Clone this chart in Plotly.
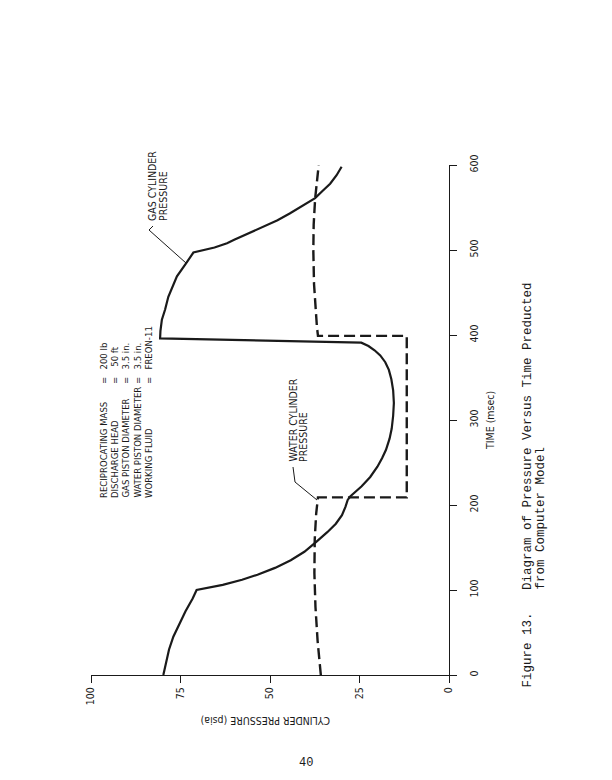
import plotly.graph_objects as go

# ---------------- data ----------------
gas_time = [0, 15, 30, 45, 60, 75, 90, 100, 106, 112, 118, 126, 135, 145, 157, 168, 178,
            188, 198, 206, 210, 215, 222, 233, 245, 255, 265, 278, 290, 305, 320, 335,
            348, 359, 368, 376, 382, 387, 391, 396, 405, 418, 430, 445, 458, 469, 484,
            497, 503, 508, 512, 519, 527, 535, 543, 552, 561, 570, 578, 588, 598]
gas_pressure = [79.8, 79.1, 78.2, 77.0, 75.4, 73.6, 71.6, 70.5, 63.2, 57.8, 53.5, 48.6, 44.2,
                40.4, 37.0, 34.0, 31.6, 29.9, 28.9, 28.3, 27.6, 26.2, 24.4, 22.0, 20.0, 18.7,
                17.6, 16.6, 16.0, 15.6, 15.4, 15.6, 16.1, 16.8, 17.8, 19.2, 20.8, 22.5, 24.5,
                80.7, 80.6, 80.2, 79.3, 78.4, 77.2, 76.0, 73.5, 71.4, 65.5, 62.0, 60.0, 56.2,
                51.8, 47.9, 44.5, 40.8, 37.4, 35.2, 33.2, 31.4, 30.0]

water_time = [0, 40, 80, 120, 160, 190, 209, 209, 399, 399, 410, 429, 460, 500, 530, 560, 580, 600]
water_pressure = [35.8, 36.7, 37.3, 37.6, 37.5, 37.1, 36.6, 11.8, 11.8, 36.6, 36.9, 37.2,
                  37.7, 37.9, 37.8, 37.4, 36.9, 36.4]

pressure_ticks = [0, 25, 50, 75, 100]
time_ticks = [0, 100, 200, 300, 400, 500, 600]

param_names = ["RECIPROCATING MASS", "DISCHARGE HEAD", "GAS PISTON DIAMETER",
               "WATER PISTON DIAMETER", "WORKING FLUID"]
param_values = ["200 lb", "\u00a050 ft", "3.5 in.", "3.5 in.", "FREON-11"]

# ---------------- layout geometry (page pixels) ----------------
OFF = 8                # body margin of the html page
W, H = 612 - OFF, 780 - OFF
XL, XR = 91, 449       # plot area left/right on page (pressure 100 -> 0)
YB, YT = 675, 165      # plot area bottom/top on page (time 0 -> 600)


def px(x):
    return (x - XL) / (XR - XL)


def py(y):
    return (YB - y) / (YB - YT)


NARROW = "Liberation Sans Narrow, DejaVu Sans Condensed, Arial Narrow, Liberation Sans, sans-serif"
MONO = "Liberation Mono, Courier New, monospace"
INK = "#1a1a1a"
NB = "\u00a0"

fig = go.Figure()
fig.add_trace(go.Scatter(x=gas_pressure, y=gas_time, mode="lines",
                         line=dict(color=INK, width=2.2), showlegend=False))
fig.add_trace(go.Scatter(x=water_pressure, y=water_time, mode="lines",
                         line=dict(color=INK, width=2.4, dash="11px,5px"), showlegend=False))

annotations = []


def rot_text(text, x, y, yanchor, size, family=NARROW, angle=-90):
    annotations.append(dict(text=text, x=px(x), y=py(y), xref="paper", yref="paper",
                            showarrow=False, textangle=angle, xanchor="center",
                            yanchor=yanchor, font=dict(family=family, size=size, color=INK)))


# parameter table
name_x = [103, 114, 125, 137, 148]
for i, (n, v) in enumerate(zip(param_names, param_values)):
    rot_text(n, name_x[i], 500, "bottom", 9.5)
    rot_text("=", name_x[i], 381, "middle", 9.5)
    rot_text(v, name_x[i], 372, "bottom", 9.5)

# curve labels
rot_text("GAS CYLINDER", 152, 223, "bottom", 10.5)
rot_text("PRESSURE", 163, 223, "bottom", 10.5)
rot_text("WATER CYLINDER", 292, 464, "bottom", 10.5)
rot_text("PRESSURE", 303, 464, "bottom", 10.5)

# axis titles
rot_text("TIME (msec)", 490, 420, "middle", 10.5)
rot_text("CYLINDER PRESSURE (psia)", 266, 721, "middle", 10.5, angle=180)

# caption
rot_text("Figure 13." + NB * 3 + "Diagram of Pressure Versus Time Preducted", 527, 690,
         "bottom", 12.5, family=MONO)
rot_text("from Computer Model", 540, 592, "bottom", 12.5, family=MONO)

# page number
annotations.append(dict(text="40", x=px(306), y=py(763), xref="paper", yref="paper",
                        showarrow=False, xanchor="center", yanchor="middle",
                        font=dict(family=MONO, size=12, color=INK)))

# leader lines
shapes = []
leaders = [[(153, 226), (149, 230), (186, 263)],
           [(293, 467), (295, 482), (317, 500)]]
for pts in leaders:
    for (xa, ya), (xb, yb) in zip(pts[:-1], pts[1:]):
        shapes.append(dict(type="line", xref="paper", yref="paper",
                           x0=px(xa), y0=py(ya), x1=px(xb), y1=py(yb),
                           line=dict(color=INK, width=1)))

axis_common = dict(showgrid=False, zeroline=False, showline=True, linecolor=INK, linewidth=1.3,
                   ticks="outside", ticklen=7, tickwidth=1.3, tickcolor=INK, tickangle=-90,
                   tickfont=dict(family=NARROW, size=10.5, color=INK))

fig.update_layout(
    width=W, height=H,
    margin=dict(l=XL - OFF, r=W - (XR - OFF), t=YT - OFF, b=H - (YB - OFF), pad=0),
    paper_bgcolor="white", plot_bgcolor="white",
    xaxis=dict(range=[100, 0], tickvals=pressure_ticks, ticktext=[str(v) for v in pressure_ticks],
               **axis_common),
    yaxis=dict(range=[0, 600], side="right", tickvals=time_ticks,
               ticktext=[str(v) for v in time_ticks], ticklabelstandoff=8, **axis_common),
    annotations=annotations, shapes=shapes, showlegend=False,
)

fig.write_html("out.html")
